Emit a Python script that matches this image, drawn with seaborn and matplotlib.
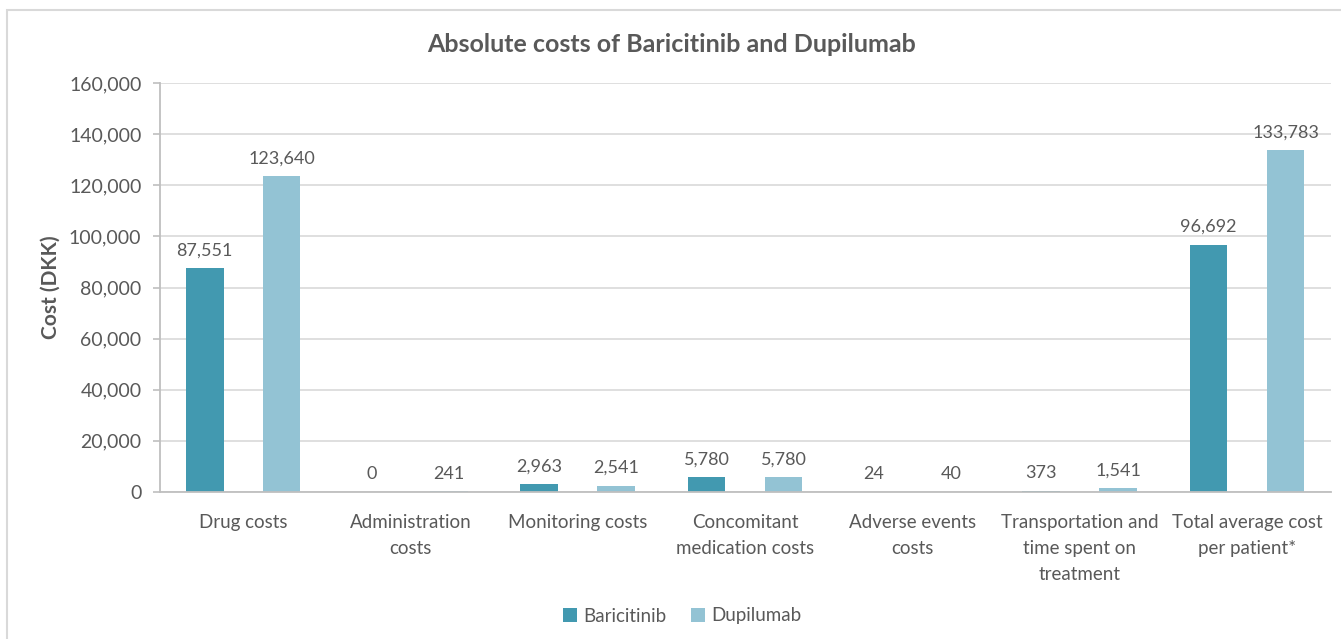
import matplotlib
matplotlib.use("Agg")
import matplotlib.pyplot as plt
from matplotlib.patches import Rectangle
from matplotlib.ticker import FuncFormatter, FixedLocator
import numpy as np
import pandas as pd
import seaborn as sns

# Cost components (DKK)
categories = [
    "Drug costs",
    "Administration\ncosts",
    "Monitoring costs",
    "Concomitant\nmedication costs",
    "Adverse events\ncosts",
    "Transportation and\ntime spent on\ntreatment",
    "Total average cost\nper patient*",
]
baricitinib = [87551, 0, 2963, 5780, 24, 373, 96692]
dupilumab = [123640, 241, 2541, 5780, 40, 1541, 133783]
treatments = ["Baricitinib", "Dupilumab"]
colors = ["#4299B0", "#93C3D4"]

df = pd.DataFrame({
    "category": categories * 2,
    "treatment": [treatments[0]] * len(categories) + [treatments[1]] * len(categories),
    "cost": baricitinib + dupilumab,
})

sns.set_theme(style="white")
plt.rcParams["font.family"] = ["Lato", "DejaVu Sans"]
text_grey = "#595959"

W, H = 1341, 639
fig = plt.figure(figsize=(W / 100, H / 100), dpi=100)
ax = fig.add_axes([159.5 / W, 1 - 492 / H, (1330.7 - 159.5) / W, (492 - 83) / H])

sns.barplot(
    data=df, x="category", y="cost", hue="treatment",
    order=categories, hue_order=treatments, palette=colors,
    width=0.92, gap=0.51, saturation=1, ax=ax, legend=True,
    linewidth=0,
)

ax.set_ylim(0, 160000)
ax.set_xlim(-0.5, len(categories) - 0.5)
ax.yaxis.set_major_locator(FixedLocator(np.arange(0, 160001, 20000)))
ax.yaxis.set_major_formatter(FuncFormatter(lambda v, p: f"{int(v):,}"))
ax.grid(axis="y", color="#D9D9D9", linewidth=1.2)
ax.set_axisbelow(True)

for side in ["top", "right"]:
    ax.spines[side].set_visible(False)
for side in ["left", "bottom"]:
    ax.spines[side].set_color("#BFBFBF")
    ax.spines[side].set_linewidth(1.3)

# Category separators on the x axis
ax.xaxis.set_minor_locator(FixedLocator(np.arange(-0.5, len(categories), 1.0)))
ax.tick_params(axis="x", which="major", length=0, pad=16, labelsize=13.5, labelcolor=text_grey)
ax.tick_params(axis="x", which="minor", length=6, width=1.2, color="#BFBFBF", direction="out")
ax.tick_params(axis="y", which="major", length=5, width=1.2, color="#BFBFBF", pad=8,
               labelsize=14, labelcolor=text_grey, left=True)
for lbl in ax.get_xticklabels():
    lbl.set_linespacing(1.62)

ax.set_xlabel("")
ax.set_ylabel("Cost (DKK)", fontsize=15, fontweight="bold", color=text_grey, labelpad=6)

# Value labels above bars
for container in ax.containers:
    ax.bar_label(container, labels=[f"{int(v):,}" for v in container.datavalues],
                 padding=7, fontsize=13, color=text_grey)

fig.text(672 / W, 1 - 44 / H, "Absolute costs of Baricitinib and Dupilumab", fontsize=18,
         fontweight="bold", color=text_grey, ha="center", va="center")

leg = ax.legend(loc="center", bbox_to_anchor=((682 - 159.5) / (1330.7 - 159.5), -(616 - 492) / (492 - 83)),
                ncol=2, frameon=False, fontsize=13.5, handlelength=0.75, handleheight=0.75,
                handletextpad=0.35, columnspacing=1.3, labelcolor=text_grey)
leg.set_title(None)

# Chart frame
fig.patches.append(Rectangle((7 / W, -0.2), 1.2, 1.2 - 10 / H, transform=fig.transFigure,
                             fill=False, edgecolor="#D9D9D9", linewidth=1.5, zorder=0))

fig.savefig("out.png", dpi=100)
